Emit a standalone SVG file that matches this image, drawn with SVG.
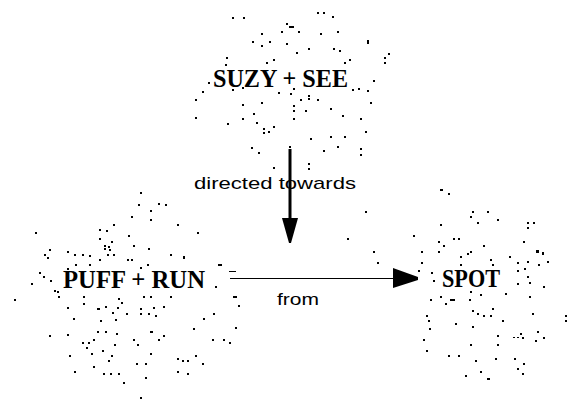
<svg xmlns="http://www.w3.org/2000/svg" width="567" height="399" viewBox="0 0 567 399">
<defs>
<style>
.bg{fill:#fff}
.dots{fill:#000;stroke:none}
.node{font-family:"Liberation Serif","Times New Roman",serif;font-size:25px;font-weight:bold;fill:#000}
.lbl{font-family:"Liberation Sans",Arial,sans-serif;font-size:17px;fill:#000}
.edge{stroke:#000;fill:none}
.head{fill:#000;stroke:none}
</style>
</defs>
<rect class="bg" x="0" y="0" width="567" height="399"/>
<g id="node-suzy-see">
<path class="dots" d="M232 17h2v2h-2zM243 17h2v2h-2zM317 12h2v2h-2zM323 12h2v2h-2zM332 16h2v2h-2zM286 23h2v2h-2zM289 26h5v2h-5zM281 31h2v2h-2zM298 31h2v2h-2zM320 33h2v2h-2zM337 31h2v2h-2zM261 33h2v2h-2zM252 41h2v2h-2zM269 41h2v2h-2zM261 45h2v2h-2zM286 43h2v2h-2zM367 40h2v4h-2zM308 48h2v2h-2zM333 48h2v2h-2zM339 50h2v2h-2zM296 52h2v2h-2zM388 53h2v2h-2zM384 57h2v2h-2zM384 62h2v2h-2zM226 57h2v2h-2zM273 59h2v2h-2zM266 62h2v2h-2zM349 59h2v2h-2zM344 62h2v2h-2zM225 64h2v2h-2zM208 82h2v2h-2zM373 80h2v2h-2zM202 91h2v2h-2zM195 99h2v2h-2zM232 89h2v2h-2zM242 87h2v2h-2zM278 92h2v2h-2zM290 93h2v2h-2zM293 88h2v2h-2zM352 89h2v2h-2zM358 88h2v2h-2zM367 90h2v2h-2zM300 99h2v2h-2zM308 95h2v2h-2zM308 98h2v2h-2zM317 99h2v2h-2zM242 104h2v2h-2zM261 102h2v2h-2zM293 105h2v2h-2zM293 110h2v2h-2zM305 110h2v2h-2zM330 108h2v2h-2zM370 102h2v2h-2zM195 117h2v2h-2zM253 113h2v2h-2zM242 118h2v2h-2zM256 122h2v2h-2zM293 118h2v2h-2zM342 115h2v2h-2zM360 118h2v2h-2zM227 123h2v2h-2zM263 128h2v2h-2zM263 132h2v2h-2zM268 131h2v2h-2zM273 126h2v2h-2zM365 131h2v2h-2zM310 138h2v2h-2zM330 136h2v2h-2zM344 136h2v2h-2zM251 147h2v2h-2zM258 152h2v2h-2zM289 146h2v2h-2zM323 150h2v2h-2zM337 146h2v2h-2zM360 148h2v2h-2zM360 154h2v2h-2zM273 167h2v2h-2zM308 163h2v2h-2zM308 168h2v2h-2zM365 211h2v2h-2zM347 238h2v2h-2zM373 251h2v2h-2zM377 262h2v2h-2z"/>
<text class="node" x="213" y="87" textLength="135" lengthAdjust="spacingAndGlyphs">SUZY + SEE</text>
</g>
<g id="node-puff-run">
<path class="dots" d="M140 192h2v2h-2zM138 204h2v2h-2zM158 203h2v2h-2zM165 204h2v2h-2zM150 210h2v2h-2zM131 216h2v2h-2zM150 219h2v2h-2zM113 224h2v2h-2zM177 224h2v2h-2zM35 232h2v2h-2zM99 229h2v2h-2zM106 230h2v2h-2zM128 235h2v2h-2zM197 232h2v2h-2zM99 238h2v2h-2zM111 241h2v2h-2zM104 245h2v2h-2zM108 246h2v2h-2zM104 248h2v2h-2zM109 249h2v2h-2zM133 245h2v2h-2zM148 248h2v2h-2zM49 249h2v2h-2zM44 254h2v2h-2zM47 257h2v2h-2zM67 251h2v2h-2zM74 254h2v2h-2zM82 254h2v2h-2zM89 255h2v2h-2zM107 254h2v2h-2zM113 254h2v2h-2zM170 254h2v2h-2zM183 257h2v2h-2zM99 259h2v2h-2zM127 259h2v2h-2zM131 259h2v2h-2zM147 264h2v2h-2zM75 264h2v2h-2zM89 264h2v2h-2zM140 267h2v2h-2zM218 264h2v2h-2zM67 268h2v2h-2zM39 272h2v2h-2zM43 276h2v2h-2zM50 280h2v2h-2zM31 283h2v2h-2zM54 290h2v2h-2zM57 291h2v2h-2zM58 296h2v2h-2zM83 296h2v2h-2zM83 303h2v2h-2zM118 298h2v2h-2zM121 302h2v2h-2zM143 296h2v2h-2zM150 296h2v2h-2zM170 296h2v2h-2zM14 299h2v2h-2zM215 286h2v2h-2zM233 296h2v2h-2zM238 305h2v2h-2zM67 307h2v2h-2zM97 308h3v2h-3zM105 306h2v2h-2zM117 307h2v2h-2zM126 313h2v2h-2zM140 308h2v2h-2zM140 313h2v2h-2zM112 312h2v2h-2zM153 307h2v2h-2zM148 313h2v2h-2zM155 315h2v2h-2zM163 306h2v2h-2zM100 320h2v2h-2zM115 319h2v2h-2zM73 318h2v2h-2zM203 318h2v2h-2zM213 313h2v2h-2zM235 327h2v2h-2zM49 335h2v2h-2zM67 334h2v2h-2zM97 331h2v2h-2zM105 331h2v2h-2zM116 333h2v2h-2zM150 331h3v2h-3zM193 328h2v2h-2zM163 335h2v2h-2zM158 339h2v2h-2zM212 339h2v2h-2zM223 339h2v2h-2zM229 342h2v2h-2zM82 342h2v2h-2zM88 342h2v2h-2zM93 339h2v2h-2zM114 344h2v2h-2zM133 339h2v2h-2zM137 344h2v2h-2zM86 347h2v2h-2zM91 353h2v2h-2zM102 350h2v2h-2zM69 355h2v2h-2zM111 355h2v2h-2zM150 353h2v2h-2zM108 360h2v2h-2zM136 363h2v2h-2zM145 363h2v2h-2zM177 358h2v2h-2zM182 360h2v2h-2zM187 360h2v2h-2zM195 355h2v2h-2zM202 363h2v2h-2zM93 366h2v2h-2zM74 371h2v2h-2zM103 373h2v2h-2zM110 373h2v2h-2zM118 373h2v2h-2zM177 371h2v2h-2zM187 373h2v2h-2zM145 377h2v2h-2zM123 382h2v2h-2zM140 397h2v2h-2zM183 256h2v2h-2zM220 264h2v2h-2zM229 271h7v1h-7zM235 296h2v2h-2z"/>
<text class="node" x="63" y="288" textLength="142" lengthAdjust="spacingAndGlyphs">PUFF + RUN</text>
</g>
<g id="node-spot">
<path class="dots" d="M440 189h3v2h-3zM448 193h2v2h-2zM472 211h2v2h-2zM487 211h2v2h-2zM470 216h2v2h-2zM477 222h2v2h-2zM497 219h2v2h-2zM440 224h2v2h-2zM527 222h2v2h-2zM533 222h2v2h-2zM527 227h2v2h-2zM413 235h2v2h-2zM453 238h2v2h-2zM458 238h2v2h-2zM438 241h2v2h-2zM443 245h2v2h-2zM483 245h2v2h-2zM523 241h2v2h-2zM421 251h2v2h-2zM438 251h2v2h-2zM460 256h2v2h-2zM467 253h2v2h-2zM470 251h2v2h-2zM536 250h3v3h-3zM542 252h2v3h-2zM509 256h2v2h-2zM421 262h2v2h-2zM460 264h2v2h-2zM490 259h2v2h-2zM517 262h2v2h-2zM527 261h2v2h-2zM538 264h2v2h-2zM547 261h2v2h-2zM492 264h2v2h-2zM524 268h2v2h-2zM418 270h2v2h-2zM431 272h2v2h-2zM433 280h2v2h-2zM517 270h2v2h-2zM527 276h2v2h-2zM529 282h2v2h-2zM517 283h2v2h-2zM543 286h2v2h-2zM470 291h2v2h-2zM480 294h2v2h-2zM505 293h2v2h-2zM430 299h2v2h-2zM440 296h2v2h-2zM450 299h5v2h-5zM445 303h2v2h-2zM469 299h2v2h-2zM529 296h2v2h-2zM472 310h2v2h-2zM477 313h2v2h-2zM483 315h2v2h-2zM490 315h2v2h-2zM492 308h2v2h-2zM532 313h2v2h-2zM426 315h2v2h-2zM428 320h2v2h-2zM502 320h2v2h-2zM455 323h2v2h-2zM429 328h2v2h-2zM472 326h2v2h-2zM565 315h2v2h-2zM565 320h2v2h-2zM537 331h2v2h-2zM497 335h2v2h-2zM520 333h2v2h-2zM522 337h2v2h-2zM513 337h2v1h-2zM517 337h2v1h-2zM535 340h2v2h-2zM543 337h2v2h-2zM423 339h2v2h-2zM470 344h2v2h-2zM497 344h2v2h-2zM426 350h2v2h-2zM448 355h2v2h-2zM458 355h2v2h-2zM475 360h2v2h-2zM495 358h2v2h-2zM514 358h2v2h-2zM523 363h2v2h-2zM480 371h2v2h-2zM517 368h2v2h-2zM522 373h2v2h-2zM465 375h2v2h-2zM487 378h3v2h-3z"/>
<text class="node" x="442" y="287" textLength="58" lengthAdjust="spacingAndGlyphs">SPOT</text>
</g>
<g id="connectors">
<g id="edge-directed-towards">
<line class="edge" x1="290" y1="149" x2="290" y2="220" stroke-width="3"/>
<polygon class="head" points="282,218 298,218 291,243 289,243"/>
<text class="lbl" x="194" y="189" textLength="162" lengthAdjust="spacingAndGlyphs">directed towards</text>
</g>
<g id="edge-from">
<line class="edge" x1="230" y1="278.5" x2="395" y2="278.5" stroke-width="1"/>
<polygon class="head" points="393,268 418,277 418,280 393,288"/>
<text class="lbl" x="277" y="305" textLength="42" lengthAdjust="spacingAndGlyphs">from</text>
</g>
</g>
</svg>
